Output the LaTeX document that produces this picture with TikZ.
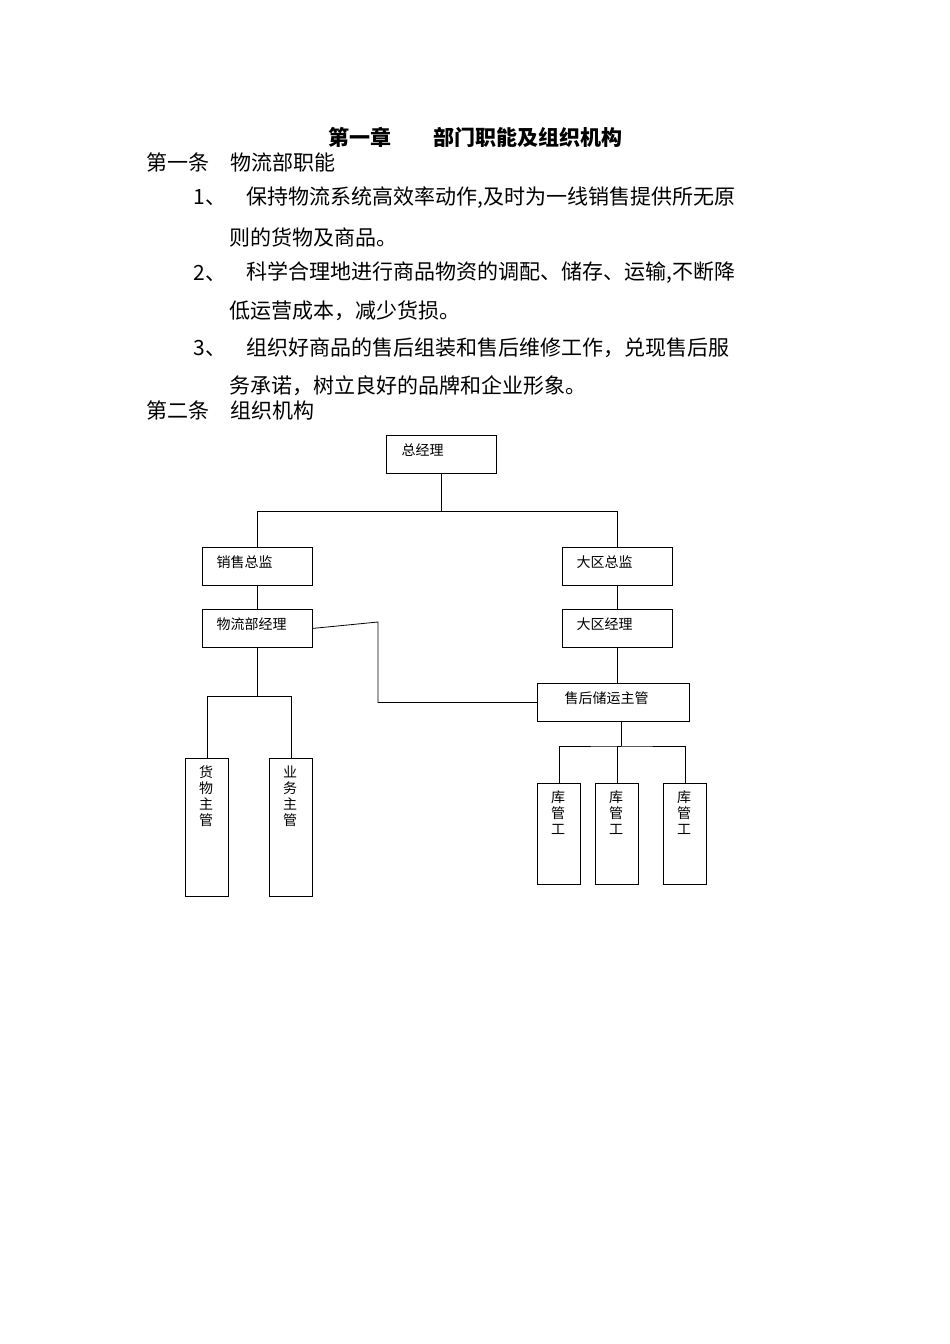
\documentclass[tikz,border=0pt]{standalone}
\usepackage{fontspec}
\setmainfont{Liberation Serif}
\newfontfamily\cjk{Noto Sans CJK SC}
\begin{document}
\begin{tikzpicture}[x=1pt,y=-1pt,
  bx/.style={draw,line width=0.8pt,minimum width=110pt,minimum height=38pt,anchor=north west,inner sep=0pt},
  vb/.style={draw,line width=0.8pt,anchor=north west,minimum width=43pt,inner sep=0pt},
  bt/.style={anchor=west,font=\cjk\fontsize{14}{15}\selectfont},
  vt/.style={anchor=north,align=center,font=\cjk\fontsize{14}{16}\selectfont},
  tx/.style={anchor=west,font=\cjk\fontsize{21}{24}\selectfont},
  ln/.style={line width=0.8pt}]
\useasboundingbox (0,0) rectangle (950,1344);
\node[anchor=center,font=\cjk\bfseries\fontsize{21}{24}\selectfont] (title) at (475,137) {第一章\hspace{2em}部门职能及组织机构};
\node[tx] (s1) at (143,162) {第一条\hspace{1em}物流部职能};
\node[tx] (n1) at (190,198) {1、};
\node[tx] (l1a) at (243,198) {保持物流系统高效率动作,及时为一线销售提供所无原};
\node[tx] (l1b) at (226,237) {则的货物及商品。};
\node[tx] (n2) at (190,273) {2、};
\node[tx] (l2a) at (243,273) {科学合理地进行商品物资的调配、储存、运输,不断降};
\node[tx] (l2b) at (226,311) {低运营成本，减少货损。};
\node[tx] (n3) at (190,348) {3、};
\node[tx] (l3a) at (243,348) {组织好商品的售后组装和售后维修工作，兑现售后服};
\node[tx] (l3b) at (226,386) {务承诺，树立良好的品牌和企业形象。};
\node[tx] (s2) at (143,410) {第二条\hspace{1em}组织机构};

\node[bx] (gm) at (386,435) {};
\node[bt] at (398,450) {总经理};
\node[bx] (xs) at (202,547) {};
\node[bt] at (213,562) {销售总监};
\node[bx] (dq) at (562,547) {};
\node[bt] at (573,562) {大区总监};
\node[bx] (wl) at (202,609) {};
\node[bt] at (213,624) {物流部经理};
\node[bx] (dj) at (562,609) {};
\node[bt] at (573,624) {大区经理};
\node[bx,minimum width=152pt] (sh) at (537,683) {};
\node[bt] at (561,698) {售后储运主管};
\node[vb,minimum height=138pt] (hw) at (185,758) {};
\node[vt] at (206,762) {货\\物\\主\\管};
\node[vb,minimum height=138pt] (yw) at (269,758) {};
\node[vt] at (290,762) {业\\务\\主\\管};
\node[vb,minimum height=101pt] (k1) at (537,783) {};
\node[vt] at (558,787) {库\\管\\工};
\node[vb,minimum height=101pt] (k2) at (595,783) {};
\node[vt] at (616,787) {库\\管\\工};
\node[vb,minimum height=101pt] (k3) at (663,783) {};
\node[vt] at (684,787) {库\\管\\工};

\draw[ln] (gm.south) -- ++(0,38) coordinate (j);
\draw[ln] (xs.north) |- (j) -| (dq.north);
\draw[ln] (xs.south) -- (wl.north);
\draw[ln] (dq.south) -- (dj.north);
\draw[ln] (dj.south) -- (sh.north -| dj.south);
\draw[ln] (wl.east) -- (378,622) |- (sh.west);
\draw[ln] (wl.south) -- ++(0,49) coordinate (w2);
\draw[ln] (hw.north) |- (w2) -| (yw.north);
\draw[ln] (sh.south -| 621,0) -- (621,746) coordinate (s2j);
\draw[ln] (k1.north) |- (s2j) -| (k3.north);
\draw[ln] (s2j) -| (k2.north);
\end{tikzpicture}
\end{document}
